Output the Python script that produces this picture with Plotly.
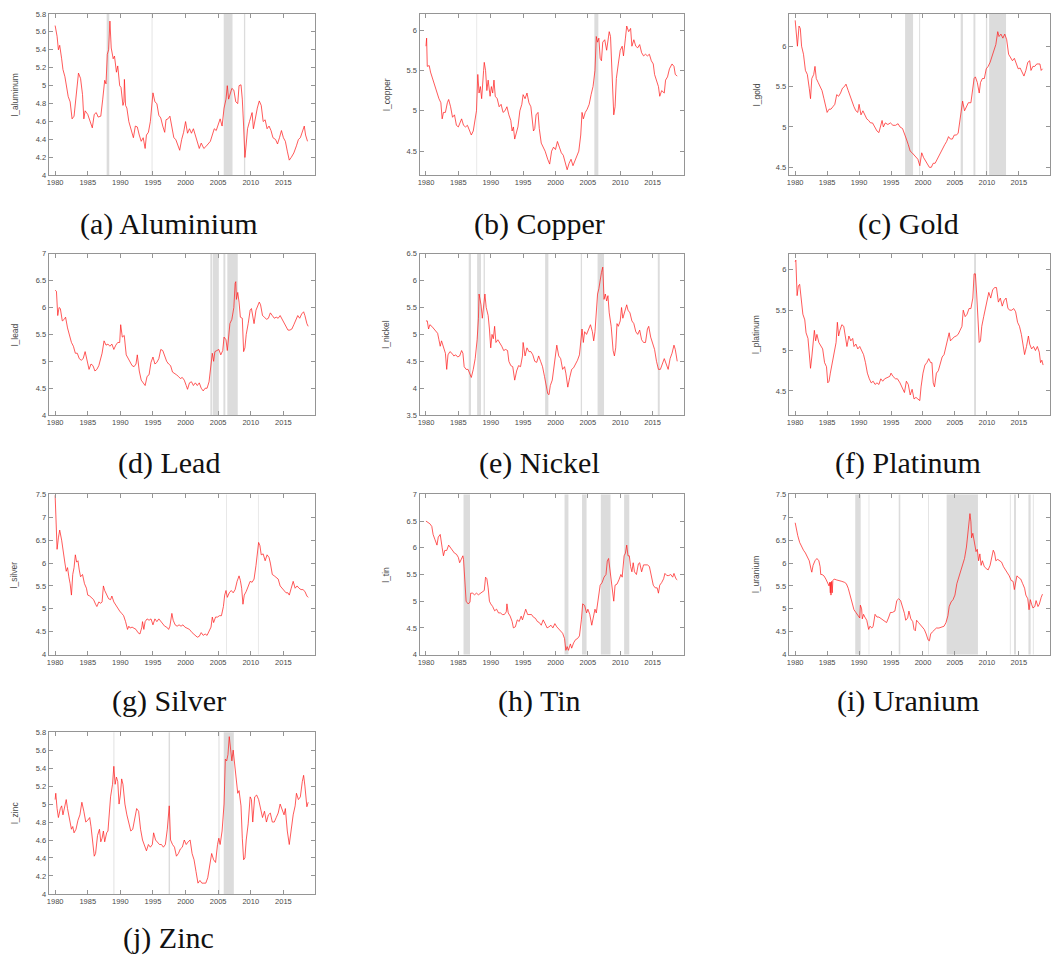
import plotly.graph_objects as go

# Monthly log prices (decimal year, log price) for each metal
ALUMINIUM = [
    (1980.0, 5.67), (1980.3, 5.55), (1980.5, 5.40), (1980.7, 5.45), (1981.0, 5.30), (1981.2, 5.18),
    (1981.5, 5.10), (1981.8, 4.95), (1982.0, 4.88), (1982.3, 4.82), (1982.6, 4.63), (1982.9, 4.66),
    (1983.2, 4.90), (1983.58, 5.14), (1983.9, 5.08), (1984.2, 4.90), (1984.4, 4.63), (1984.6, 4.72),
    (1985.0, 4.68), (1985.4, 4.60), (1985.7, 4.53), (1986.0, 4.68), (1986.3, 4.70), (1986.6, 4.65),
    (1987.0, 4.66), (1987.3, 4.85), (1987.6, 5.06), (1987.8, 5.02), (1988.0, 5.35), (1988.2, 5.40),
    (1988.4, 5.72), (1988.6, 5.42), (1988.9, 5.30), (1989.1, 5.33), (1989.4, 5.15), (1989.6, 5.22),
    (1989.9, 5.00), (1990.1, 4.98), (1990.4, 4.78), (1990.55, 4.82), (1990.62, 5.07), (1990.8, 4.78),
    (1991.0, 4.75), (1991.3, 4.60), (1991.7, 4.50), (1992.0, 4.42), (1992.3, 4.55), (1992.6, 4.54),
    (1992.9, 4.45), (1993.2, 4.38), (1993.5, 4.42), (1993.8, 4.30), (1994.0, 4.45), (1994.3, 4.48),
    (1994.6, 4.60), (1994.9, 4.83), (1995.0, 4.92), (1995.3, 4.82), (1995.6, 4.80), (1995.9, 4.67),
    (1996.2, 4.64), (1996.5, 4.55), (1996.8, 4.48), (1997.0, 4.62), (1997.3, 4.63), (1997.6, 4.66),
    (1997.9, 4.52), (1998.2, 4.42), (1998.5, 4.40), (1998.9, 4.32), (1999.1, 4.28), (1999.4, 4.40),
    (1999.7, 4.48), (2000.0, 4.60), (2000.3, 4.47), (2000.6, 4.52), (2000.9, 4.47), (2001.2, 4.52),
    (2001.5, 4.45), (2001.9, 4.35), (2002.1, 4.30), (2002.4, 4.36), (2002.8, 4.30), (2003.1, 4.32),
    (2003.4, 4.35), (2003.8, 4.38), (2004.1, 4.45), (2004.4, 4.52), (2004.7, 4.50), (2005.0, 4.56),
    (2005.3, 4.63), (2005.6, 4.55), (2005.9, 4.75), (2006.2, 4.85), (2006.4, 5.00), (2006.6, 4.85),
    (2006.9, 4.92), (2007.1, 4.97), (2007.4, 4.95), (2007.7, 4.82), (2008.0, 4.80), (2008.2, 5.00),
    (2008.5, 5.01), (2008.7, 4.85), (2008.9, 4.55), (2009.1, 4.20), (2009.3, 4.35), (2009.5, 4.52),
    (2009.8, 4.60), (2010.0, 4.65), (2010.2, 4.70), (2010.4, 4.52), (2010.7, 4.65), (2011.0, 4.75),
    (2011.3, 4.83), (2011.6, 4.78), (2011.9, 4.60), (2012.2, 4.62), (2012.5, 4.52), (2012.8, 4.55),
    (2013.1, 4.50), (2013.4, 4.42), (2013.8, 4.40), (2014.1, 4.35), (2014.4, 4.42), (2014.7, 4.50),
    (2015.0, 4.42), (2015.3, 4.38), (2015.6, 4.27), (2015.9, 4.17), (2016.2, 4.20), (2016.6, 4.25),
    (2017.0, 4.33), (2017.3, 4.40), (2017.6, 4.42), (2018.0, 4.50), (2018.2, 4.55), (2018.4, 4.45),
    (2018.7, 4.38),
]
ALUMINIUM_BUBBLES = [(1987.9, 1988.3), (1994.8, 1994.92), (2005.85, 2007.2), (2008.95, 2009.15)]

COPPER = [
    (1980.0, 5.80), (1980.1, 5.90), (1980.2, 5.55), (1980.5, 5.56), (1980.7, 5.48), (1981.0, 5.40),
    (1981.4, 5.30), (1981.7, 5.22), (1982.0, 5.15), (1982.3, 5.10), (1982.5, 4.90), (1982.7, 4.98),
    (1983.0, 4.98), (1983.3, 5.10), (1983.5, 5.14), (1983.8, 5.05), (1984.1, 4.92), (1984.4, 4.95),
    (1984.7, 4.82), (1985.0, 4.80), (1985.3, 4.85), (1985.5, 4.90), (1985.8, 4.82), (1986.1, 4.80),
    (1986.4, 4.82), (1986.7, 4.75), (1987.0, 4.70), (1987.3, 4.75), (1987.6, 4.90), (1987.8, 5.00),
    (1988.0, 5.45), (1988.2, 5.22), (1988.4, 5.30), (1988.6, 5.15), (1988.9, 5.50), (1989.0, 5.60),
    (1989.2, 5.50), (1989.4, 5.25), (1989.6, 5.38), (1989.9, 5.18), (1990.1, 5.30), (1990.3, 5.22),
    (1990.5, 5.38), (1990.7, 5.18), (1991.0, 5.15), (1991.3, 5.05), (1991.6, 5.08), (1991.9, 4.98),
    (1992.2, 5.00), (1992.5, 5.05), (1992.8, 4.95), (1993.1, 4.88), (1993.3, 4.75), (1993.5, 4.80),
    (1993.7, 4.65), (1994.0, 4.75), (1994.2, 4.80), (1994.5, 5.00), (1994.8, 5.08), (1995.0, 5.20),
    (1995.3, 5.15), (1995.6, 5.22), (1995.9, 5.10), (1996.2, 5.05), (1996.4, 4.90), (1996.6, 4.75),
    (1996.8, 4.78), (1997.0, 4.95), (1997.3, 4.98), (1997.5, 4.78), (1997.8, 4.60), (1998.1, 4.55),
    (1998.4, 4.50), (1998.8, 4.40), (1999.1, 4.34), (1999.4, 4.50), (1999.7, 4.55), (2000.0, 4.52),
    (2000.3, 4.62), (2000.6, 4.55), (2000.9, 4.48), (2001.2, 4.45), (2001.5, 4.35), (2001.8, 4.27),
    (2002.1, 4.35), (2002.4, 4.40), (2002.7, 4.32), (2003.0, 4.38), (2003.3, 4.42), (2003.6, 4.50),
    (2003.9, 4.70), (2004.1, 4.98), (2004.3, 4.90), (2004.6, 4.98), (2004.9, 5.02), (2005.2, 5.08),
    (2005.5, 5.20), (2005.8, 5.30), (2006.1, 5.50), (2006.3, 5.92), (2006.5, 5.85), (2006.7, 5.90),
    (2006.9, 5.65), (2007.1, 5.62), (2007.3, 5.85), (2007.6, 5.88), (2007.9, 5.75), (2008.1, 5.90),
    (2008.3, 5.98), (2008.5, 5.92), (2008.7, 5.60), (2008.9, 5.20), (2009.0, 4.95), (2009.2, 5.05),
    (2009.4, 5.40), (2009.7, 5.58), (2010.0, 5.75), (2010.3, 5.80), (2010.5, 5.68), (2010.8, 5.90),
    (2011.0, 6.05), (2011.3, 5.98), (2011.6, 6.02), (2011.8, 5.80), (2012.1, 5.88), (2012.4, 5.80),
    (2012.7, 5.78), (2013.0, 5.82), (2013.3, 5.72), (2013.6, 5.68), (2013.9, 5.70), (2014.2, 5.68),
    (2014.5, 5.70), (2014.8, 5.62), (2015.1, 5.58), (2015.3, 5.45), (2015.6, 5.38), (2015.9, 5.30),
    (2016.1, 5.18), (2016.4, 5.25), (2016.8, 5.22), (2017.0, 5.38), (2017.3, 5.42), (2017.6, 5.52),
    (2018.0, 5.58), (2018.3, 5.55), (2018.5, 5.45), (2018.8, 5.43),
]
COPPER_BUBBLES = [(1987.8, 1987.9), (2006.0, 2006.62)]

GOLD = [
    (1980.0, 6.32), (1980.2, 6.10), (1980.35, 6.00), (1980.6, 6.25), (1980.8, 6.22), (1981.0, 6.00),
    (1981.3, 5.90), (1981.6, 5.70), (1981.9, 5.65), (1982.2, 5.48), (1982.4, 5.35), (1982.6, 5.60),
    (1982.9, 5.65), (1983.1, 5.75), (1983.3, 5.60), (1983.6, 5.55), (1983.9, 5.50), (1984.2, 5.45),
    (1984.5, 5.35), (1984.8, 5.25), (1985.0, 5.18), (1985.3, 5.22), (1985.6, 5.22), (1985.9, 5.25),
    (1986.2, 5.28), (1986.5, 5.40), (1986.8, 5.38), (1987.1, 5.42), (1987.4, 5.48), (1987.7, 5.50),
    (1987.95, 5.53), (1988.3, 5.45), (1988.6, 5.38), (1988.9, 5.32), (1989.2, 5.25), (1989.5, 5.20),
    (1989.8, 5.18), (1990.0, 5.28), (1990.3, 5.15), (1990.6, 5.20), (1990.9, 5.15), (1991.2, 5.10),
    (1991.5, 5.08), (1991.8, 5.05), (1992.1, 5.05), (1992.4, 5.00), (1992.8, 4.95), (1993.1, 4.93),
    (1993.3, 5.00), (1993.6, 5.08), (1993.8, 5.00), (1994.1, 5.05), (1994.5, 5.03), (1994.9, 5.05),
    (1995.3, 5.02), (1995.7, 5.02), (1996.1, 5.04), (1996.4, 5.00), (1996.8, 4.98), (1997.1, 4.90),
    (1997.4, 4.85), (1997.7, 4.78), (1998.0, 4.70), (1998.3, 4.68), (1998.6, 4.65), (1998.9, 4.63),
    (1999.2, 4.60), (1999.5, 4.52), (1999.8, 4.68), (2000.1, 4.62), (2000.4, 4.58), (2000.7, 4.55),
    (2001.0, 4.50), (2001.3, 4.50), (2001.6, 4.55), (2001.9, 4.55), (2002.2, 4.60), (2002.5, 4.65),
    (2002.8, 4.68), (2003.1, 4.75), (2003.4, 4.78), (2003.7, 4.82), (2004.0, 4.88), (2004.3, 4.85),
    (2004.6, 4.85), (2004.9, 4.90), (2005.2, 4.90), (2005.5, 4.92), (2005.8, 5.10), (2006.0, 5.20),
    (2006.2, 5.32), (2006.5, 5.20), (2006.8, 5.25), (2007.1, 5.30), (2007.5, 5.30), (2007.8, 5.48),
    (2008.0, 5.60), (2008.2, 5.62), (2008.5, 5.55), (2008.8, 5.42), (2009.0, 5.55), (2009.3, 5.60),
    (2009.6, 5.60), (2009.9, 5.72), (2010.2, 5.75), (2010.5, 5.80), (2010.8, 5.88), (2011.1, 5.95),
    (2011.4, 6.02), (2011.7, 6.18), (2011.9, 6.12), (2012.2, 6.15), (2012.5, 6.10), (2012.8, 6.15),
    (2013.1, 6.08), (2013.4, 5.90), (2013.7, 5.85), (2014.0, 5.82), (2014.3, 5.85), (2014.6, 5.78),
    (2014.9, 5.72), (2015.2, 5.73), (2015.5, 5.68), (2015.8, 5.63), (2016.1, 5.70), (2016.4, 5.80),
    (2016.7, 5.82), (2016.9, 5.70), (2017.2, 5.75), (2017.5, 5.75), (2017.8, 5.78), (2018.0, 5.78),
    (2018.3, 5.78), (2018.5, 5.70), (2018.7, 5.72),
]
GOLD_BUBBLES = [(1997.2, 1998.45), (1999.4, 1999.55), (2005.9, 2006.25), (2007.9, 2008.2),
                (2009.85, 2010.05), (2010.35, 2013.0)]

LEAD = [
    (1980.0, 6.32), (1980.2, 6.30), (1980.4, 5.85), (1980.6, 6.00), (1980.8, 5.98), (1981.1, 5.75),
    (1981.4, 5.78), (1981.6, 5.82), (1981.9, 5.62), (1982.2, 5.50), (1982.5, 5.35), (1982.8, 5.28),
    (1983.1, 5.15), (1983.4, 5.15), (1983.7, 5.05), (1984.0, 5.02), (1984.3, 5.05), (1984.6, 5.18),
    (1984.9, 5.00), (1985.2, 4.85), (1985.5, 4.95), (1985.8, 4.92), (1986.1, 4.82), (1986.4, 4.85),
    (1986.7, 4.92), (1987.0, 5.05), (1987.2, 5.15), (1987.5, 5.38), (1987.8, 5.30), (1988.1, 5.32),
    (1988.4, 5.28), (1988.7, 5.32), (1989.0, 5.22), (1989.3, 5.30), (1989.6, 5.35), (1989.9, 5.35),
    (1990.05, 5.68), (1990.3, 5.45), (1990.6, 5.48), (1990.9, 5.12), (1991.2, 5.05), (1991.5, 5.00),
    (1991.8, 4.92), (1992.1, 4.90), (1992.4, 4.95), (1992.6, 5.12), (1992.9, 4.82), (1993.2, 4.65),
    (1993.5, 4.60), (1993.8, 4.55), (1994.1, 4.72), (1994.4, 4.75), (1994.7, 4.98), (1995.0, 5.08),
    (1995.3, 4.95), (1995.6, 4.98), (1995.9, 5.05), (1996.2, 5.22), (1996.5, 5.20), (1996.8, 5.10),
    (1997.1, 5.00), (1997.4, 4.95), (1997.7, 4.92), (1998.0, 4.80), (1998.3, 4.78), (1998.6, 4.75),
    (1998.9, 4.72), (1999.2, 4.68), (1999.5, 4.70), (1999.8, 4.65), (2000.1, 4.55), (2000.3, 4.48),
    (2000.6, 4.60), (2000.9, 4.62), (2001.2, 4.55), (2001.5, 4.60), (2001.8, 4.55), (2002.1, 4.60),
    (2002.4, 4.50), (2002.7, 4.45), (2003.0, 4.50), (2003.3, 4.50), (2003.6, 4.62), (2003.9, 4.90),
    (2004.1, 5.15), (2004.3, 5.00), (2004.5, 5.18), (2004.8, 5.20), (2005.1, 5.22), (2005.4, 5.12),
    (2005.7, 5.20), (2005.9, 5.45), (2006.2, 5.40), (2006.4, 5.20), (2006.6, 5.45), (2006.8, 5.70),
    (2007.1, 5.78), (2007.4, 6.00), (2007.6, 6.45), (2007.7, 6.48), (2007.8, 6.15), (2008.0, 6.28),
    (2008.2, 6.10), (2008.4, 5.82), (2008.7, 5.80), (2008.9, 5.18), (2009.1, 5.25), (2009.3, 5.50),
    (2009.6, 5.70), (2009.9, 5.95), (2010.1, 5.98), (2010.3, 5.82), (2010.5, 5.70), (2010.8, 5.95),
    (2011.0, 6.02), (2011.3, 6.10), (2011.5, 6.05), (2011.8, 5.85), (2012.1, 5.82), (2012.4, 5.78),
    (2012.7, 5.80), (2013.0, 5.90), (2013.3, 5.85), (2013.6, 5.80), (2013.9, 5.82), (2014.2, 5.80),
    (2014.5, 5.85), (2014.8, 5.78), (2015.1, 5.72), (2015.4, 5.65), (2015.7, 5.58), (2016.0, 5.58),
    (2016.3, 5.60), (2016.6, 5.68), (2016.9, 5.78), (2017.2, 5.85), (2017.5, 5.80), (2017.8, 5.88),
    (2018.1, 5.92), (2018.3, 5.85), (2018.6, 5.70), (2018.8, 5.65),
]
LEAD_BUBBLES = [(2003.8, 2004.1), (2004.2, 2005.1), (2005.8, 2006.1), (2006.4, 2008.0)]

NICKEL = [
    (1980.0, 5.25), (1980.2, 5.25), (1980.4, 5.10), (1980.6, 5.18), (1980.9, 5.15), (1981.2, 5.10),
    (1981.5, 5.05), (1981.8, 5.02), (1982.0, 4.90), (1982.2, 4.78), (1982.4, 4.88), (1982.7, 4.75),
    (1983.0, 4.65), (1983.2, 4.35), (1983.4, 4.62), (1983.7, 4.68), (1984.0, 4.65), (1984.3, 4.60),
    (1984.6, 4.62), (1984.9, 4.58), (1985.2, 4.60), (1985.5, 4.70), (1985.7, 4.65), (1985.9, 4.40),
    (1986.2, 4.35), (1986.5, 4.35), (1986.8, 4.25), (1987.0, 4.20), (1987.3, 4.35), (1987.6, 4.55),
    (1987.9, 4.90), (1988.1, 5.30), (1988.2, 5.75), (1988.5, 5.55), (1988.7, 5.30), (1988.9, 5.60),
    (1989.1, 5.75), (1989.3, 5.50), (1989.6, 5.35), (1989.8, 5.10), (1990.0, 4.75), (1990.2, 5.00),
    (1990.4, 4.92), (1990.6, 5.15), (1990.8, 4.85), (1991.1, 4.90), (1991.4, 4.85), (1991.7, 4.78),
    (1992.0, 4.70), (1992.3, 4.72), (1992.6, 4.70), (1992.8, 4.50), (1993.1, 4.42), (1993.4, 4.40),
    (1993.7, 4.15), (1994.0, 4.32), (1994.3, 4.42), (1994.6, 4.40), (1994.9, 4.60), (1995.0, 4.85),
    (1995.3, 4.60), (1995.6, 4.75), (1995.9, 4.68), (1996.2, 4.68), (1996.5, 4.62), (1996.8, 4.50),
    (1997.1, 4.48), (1997.4, 4.60), (1997.7, 4.50), (1998.0, 4.40), (1998.3, 4.22), (1998.6, 4.05),
    (1998.8, 3.90), (1999.0, 3.88), (1999.2, 4.05), (1999.5, 4.15), (1999.8, 4.42), (2000.0, 4.55),
    (2000.2, 4.80), (2000.5, 4.60), (2000.8, 4.55), (2001.1, 4.35), (2001.4, 4.40), (2001.6, 4.28),
    (2001.9, 4.02), (2002.2, 4.20), (2002.5, 4.35), (2002.8, 4.38), (2003.1, 4.45), (2003.4, 4.52),
    (2003.7, 4.62), (2003.9, 4.95), (2004.1, 5.10), (2004.3, 4.85), (2004.5, 5.05), (2004.8, 5.00),
    (2005.1, 5.10), (2005.4, 5.18), (2005.7, 5.05), (2005.9, 4.88), (2006.1, 5.05), (2006.3, 5.40),
    (2006.5, 5.75), (2006.7, 5.85), (2006.9, 6.05), (2007.1, 6.15), (2007.3, 6.25), (2007.5, 5.65),
    (2007.7, 5.75), (2007.9, 5.62), (2008.1, 5.72), (2008.3, 5.40), (2008.6, 5.15), (2008.9, 4.70),
    (2009.1, 4.60), (2009.3, 4.75), (2009.5, 5.20), (2009.7, 5.15), (2010.0, 5.25), (2010.2, 5.50),
    (2010.4, 5.30), (2010.7, 5.42), (2011.0, 5.55), (2011.2, 5.45), (2011.5, 5.40), (2011.8, 5.25),
    (2012.1, 5.20), (2012.4, 5.05), (2012.7, 5.00), (2013.0, 5.08), (2013.3, 4.90), (2013.6, 4.85),
    (2013.9, 4.85), (2014.2, 5.10), (2014.4, 5.15), (2014.7, 4.95), (2015.0, 4.85), (2015.3, 4.72),
    (2015.6, 4.50), (2015.9, 4.35), (2016.2, 4.35), (2016.5, 4.45), (2016.8, 4.55), (2017.1, 4.45),
    (2017.4, 4.35), (2017.7, 4.55), (2018.0, 4.65), (2018.3, 4.80), (2018.5, 4.72), (2018.8, 4.50),
]
NICKEL_BUBBLES = [(1986.6, 1986.95), (1987.9, 1988.5), (1988.9, 1989.1), (1998.4, 1998.9),
                  (2003.9, 2004.1), (2006.5, 2007.5), (2015.8, 2016.1)]

PLATINUM = [
    (1980.0, 6.10), (1980.1, 6.12), (1980.3, 5.68), (1980.5, 5.80), (1980.7, 5.82), (1980.9, 5.65),
    (1981.2, 5.45), (1981.5, 5.38), (1981.7, 5.22), (1982.0, 5.15), (1982.2, 4.95), (1982.4, 4.78),
    (1982.6, 4.92), (1982.8, 5.05), (1983.0, 5.25), (1983.2, 5.12), (1983.4, 5.20), (1983.7, 5.10),
    (1984.0, 5.05), (1984.3, 5.02), (1984.6, 4.85), (1984.9, 4.80), (1985.1, 4.60), (1985.3, 4.62),
    (1985.5, 4.72), (1985.8, 4.85), (1986.1, 5.00), (1986.4, 5.10), (1986.6, 5.35), (1986.8, 5.18),
    (1987.0, 5.25), (1987.3, 5.32), (1987.6, 5.30), (1987.9, 5.15), (1988.1, 5.05), (1988.4, 5.18),
    (1988.7, 5.12), (1989.0, 5.15), (1989.2, 5.05), (1989.5, 5.08), (1989.8, 5.02), (1990.1, 5.05),
    (1990.4, 5.00), (1990.7, 4.95), (1991.0, 4.85), (1991.3, 4.72), (1991.6, 4.65), (1991.9, 4.60),
    (1992.2, 4.62), (1992.5, 4.58), (1992.8, 4.60), (1993.1, 4.58), (1993.4, 4.65), (1993.7, 4.62),
    (1994.0, 4.65), (1994.4, 4.67), (1994.8, 4.68), (1995.0, 4.72), (1995.3, 4.68), (1995.7, 4.65),
    (1996.0, 4.65), (1996.4, 4.60), (1996.8, 4.52), (1997.1, 4.48), (1997.4, 4.62), (1997.7, 4.58),
    (1998.0, 4.45), (1998.3, 4.52), (1998.6, 4.40), (1998.9, 4.42), (1999.2, 4.40), (1999.5, 4.38),
    (1999.7, 4.55), (2000.0, 4.72), (2000.3, 4.82), (2000.6, 4.85), (2000.9, 4.90), (2001.2, 4.85),
    (2001.4, 4.85), (2001.6, 4.60), (2001.8, 4.55), (2002.1, 4.72), (2002.4, 4.75), (2002.7, 4.85),
    (2003.0, 4.92), (2003.3, 4.95), (2003.6, 5.05), (2003.9, 5.15), (2004.1, 5.22), (2004.3, 5.12),
    (2004.6, 5.15), (2004.9, 5.17), (2005.2, 5.18), (2005.5, 5.20), (2005.8, 5.25), (2006.1, 5.30),
    (2006.3, 5.50), (2006.6, 5.42), (2006.9, 5.45), (2007.2, 5.52), (2007.5, 5.52), (2007.8, 5.65),
    (2008.0, 5.95), (2008.2, 5.95), (2008.4, 5.70), (2008.6, 5.40), (2008.8, 5.10), (2009.0, 5.12),
    (2009.2, 5.30), (2009.5, 5.42), (2009.8, 5.55), (2010.1, 5.68), (2010.3, 5.72), (2010.6, 5.65),
    (2010.9, 5.75), (2011.2, 5.78), (2011.5, 5.78), (2011.8, 5.60), (2012.1, 5.65), (2012.4, 5.55),
    (2012.7, 5.62), (2013.0, 5.65), (2013.3, 5.52), (2013.6, 5.50), (2013.9, 5.50), (2014.2, 5.52),
    (2014.5, 5.48), (2014.8, 5.35), (2015.1, 5.30), (2015.4, 5.20), (2015.7, 5.05), (2015.9, 4.95),
    (2016.2, 5.05), (2016.5, 5.18), (2016.7, 5.08), (2017.0, 5.02), (2017.3, 5.05), (2017.6, 5.00),
    (2017.9, 5.05), (2018.2, 4.98), (2018.4, 4.85), (2018.6, 4.88), (2018.8, 4.82),
]
PLATINUM_BUBBLES = [(2008.0, 2008.3)]

SILVER = [
    (1980.0, 7.48), (1980.15, 7.00), (1980.3, 6.30), (1980.5, 6.55), (1980.7, 6.72), (1981.0, 6.50),
    (1981.2, 6.25), (1981.5, 6.00), (1981.7, 5.82), (1981.9, 5.90), (1982.1, 5.70), (1982.3, 5.55),
    (1982.5, 5.30), (1982.7, 5.75), (1982.9, 5.90), (1983.1, 6.18), (1983.3, 6.02), (1983.5, 6.05),
    (1983.7, 5.85), (1983.9, 5.70), (1984.2, 5.75), (1984.5, 5.55), (1984.8, 5.45), (1985.0, 5.30),
    (1985.3, 5.28), (1985.6, 5.25), (1985.9, 5.20), (1986.2, 5.10), (1986.4, 5.05), (1986.7, 5.15),
    (1987.0, 5.12), (1987.2, 5.15), (1987.4, 5.50), (1987.6, 5.40), (1987.9, 5.32), (1988.2, 5.22),
    (1988.5, 5.20), (1988.7, 5.28), (1989.0, 5.15), (1989.3, 5.08), (1989.6, 5.00), (1989.9, 4.95),
    (1990.2, 4.90), (1990.5, 4.85), (1990.8, 4.72), (1991.1, 4.55), (1991.3, 4.62), (1991.5, 4.58),
    (1991.8, 4.60), (1992.1, 4.58), (1992.4, 4.55), (1992.7, 4.48), (1993.0, 4.45), (1993.3, 4.60),
    (1993.4, 4.72), (1993.6, 4.55), (1993.8, 4.72), (1994.1, 4.78), (1994.4, 4.75), (1994.7, 4.78),
    (1995.0, 4.65), (1995.3, 4.78), (1995.6, 4.72), (1995.9, 4.78), (1996.2, 4.72), (1996.5, 4.68),
    (1996.8, 4.62), (1997.1, 4.60), (1997.4, 4.55), (1997.6, 4.62), (1997.9, 4.90), (1998.1, 4.75),
    (1998.4, 4.65), (1998.7, 4.62), (1999.0, 4.65), (1999.3, 4.62), (1999.6, 4.65), (1999.9, 4.60),
    (2000.2, 4.58), (2000.6, 4.55), (2001.0, 4.48), (2001.4, 4.42), (2001.8, 4.38), (2002.1, 4.40),
    (2002.4, 4.48), (2002.7, 4.42), (2003.0, 4.45), (2003.3, 4.42), (2003.6, 4.52), (2003.9, 4.60),
    (2004.1, 4.82), (2004.3, 4.70), (2004.6, 4.82), (2004.9, 4.82), (2005.2, 4.85), (2005.5, 4.85),
    (2005.8, 5.05), (2006.0, 5.30), (2006.2, 5.40), (2006.4, 5.25), (2006.7, 5.35), (2007.0, 5.40),
    (2007.3, 5.35), (2007.6, 5.42), (2007.9, 5.60), (2008.2, 5.72), (2008.4, 5.62), (2008.6, 5.45),
    (2008.8, 5.10), (2009.0, 5.30), (2009.3, 5.38), (2009.6, 5.50), (2009.9, 5.60), (2010.2, 5.58),
    (2010.5, 5.65), (2010.8, 5.95), (2011.0, 6.15), (2011.2, 6.45), (2011.4, 6.38), (2011.6, 6.18),
    (2011.9, 6.20), (2012.2, 6.05), (2012.5, 6.18), (2012.8, 6.12), (2013.0, 6.00), (2013.3, 5.75),
    (2013.6, 5.72), (2013.9, 5.68), (2014.2, 5.65), (2014.5, 5.50), (2014.8, 5.45), (2015.1, 5.42),
    (2015.4, 5.35), (2015.7, 5.35), (2015.9, 5.30), (2016.2, 5.45), (2016.5, 5.60), (2016.8, 5.45),
    (2017.1, 5.50), (2017.4, 5.45), (2017.7, 5.42), (2018.0, 5.42), (2018.3, 5.38), (2018.6, 5.28),
    (2018.8, 5.25),
]
SILVER_BUBBLES = [(2006.25, 2006.35), (2011.1, 2011.2)]

TIN = [
    (1980.0, 6.50), (1980.3, 6.48), (1980.6, 6.45), (1980.9, 6.40), (1981.1, 6.25), (1981.4, 6.15),
    (1981.7, 6.05), (1981.9, 6.20), (1982.2, 6.25), (1982.5, 6.00), (1982.7, 5.85), (1982.9, 5.95),
    (1983.2, 5.95), (1983.5, 6.05), (1983.8, 6.00), (1984.1, 5.95), (1984.4, 5.90), (1984.7, 5.88),
    (1985.0, 5.82), (1985.2, 5.72), (1985.5, 5.82), (1985.7, 5.85), (1985.8, 5.78), (1986.0, 5.45),
    (1986.1, 5.30), (1986.2, 5.00), (1986.5, 4.95), (1986.8, 4.98), (1986.9, 5.15), (1987.2, 5.15),
    (1987.5, 5.12), (1987.8, 5.15), (1988.1, 5.12), (1988.4, 5.15), (1988.7, 5.18), (1989.0, 5.20),
    (1989.2, 5.45), (1989.4, 5.42), (1989.6, 5.25), (1989.8, 5.00), (1990.0, 4.95), (1990.3, 4.90),
    (1990.6, 4.82), (1990.9, 4.85), (1991.2, 4.78), (1991.5, 4.78), (1991.8, 4.75), (1992.1, 4.75),
    (1992.4, 4.80), (1992.5, 4.95), (1992.7, 4.78), (1993.0, 4.72), (1993.3, 4.62), (1993.5, 4.50),
    (1993.8, 4.52), (1994.1, 4.65), (1994.4, 4.62), (1994.7, 4.72), (1994.9, 4.65), (1995.2, 4.78),
    (1995.4, 4.85), (1995.7, 4.75), (1996.0, 4.75), (1996.3, 4.75), (1996.6, 4.70), (1996.9, 4.68),
    (1997.2, 4.62), (1997.5, 4.60), (1997.8, 4.55), (1998.1, 4.65), (1998.4, 4.58), (1998.7, 4.50),
    (1999.0, 4.52), (1999.3, 4.55), (1999.6, 4.50), (1999.9, 4.58), (2000.2, 4.52), (2000.5, 4.48),
    (2000.8, 4.45), (2001.1, 4.40), (2001.4, 4.30), (2001.6, 4.08), (2001.8, 4.15), (2002.0, 4.08),
    (2002.3, 4.20), (2002.5, 4.12), (2002.8, 4.22), (2003.1, 4.28), (2003.4, 4.30), (2003.7, 4.35),
    (2004.0, 4.65), (2004.2, 4.95), (2004.5, 4.92), (2004.8, 4.78), (2005.0, 4.85), (2005.3, 4.75),
    (2005.6, 4.55), (2005.9, 4.75), (2006.1, 4.85), (2006.3, 4.78), (2006.6, 5.05), (2006.9, 5.30),
    (2007.2, 5.35), (2007.5, 5.45), (2007.8, 5.50), (2008.0, 5.75), (2008.2, 5.80), (2008.4, 5.60),
    (2008.6, 5.40), (2008.8, 5.10), (2009.0, 5.00), (2009.2, 5.30), (2009.5, 5.32), (2009.8, 5.40),
    (2010.1, 5.50), (2010.3, 5.45), (2010.6, 5.85), (2010.8, 5.90), (2011.0, 6.05), (2011.2, 5.85),
    (2011.4, 5.85), (2011.6, 5.65), (2011.8, 5.55), (2012.0, 5.72), (2012.2, 5.55), (2012.5, 5.50),
    (2012.8, 5.70), (2013.0, 5.72), (2013.3, 5.55), (2013.6, 5.68), (2013.9, 5.68), (2014.2, 5.68),
    (2014.5, 5.65), (2014.8, 5.50), (2015.1, 5.30), (2015.4, 5.25), (2015.7, 5.25), (2015.9, 5.15),
    (2016.1, 5.30), (2016.4, 5.35), (2016.7, 5.42), (2016.9, 5.52), (2017.2, 5.48), (2017.5, 5.48),
    (2017.8, 5.50), (2018.1, 5.45), (2018.3, 5.52), (2018.6, 5.42), (2018.8, 5.40),
]
TIN_BUBBLES = [(1985.8, 1986.8), (2001.4, 2002.0), (2004.1, 2004.8), (2007.0, 2008.5), (2010.6, 2011.4)]

URANIUM = [
    (1980.0, 6.88), (1980.2, 6.70), (1980.4, 6.60), (1980.7, 6.45), (1981.0, 6.35), (1981.3, 6.28),
    (1981.6, 6.22), (1981.9, 6.15), (1982.2, 6.05), (1982.5, 5.85), (1982.6, 5.80), (1982.8, 5.95),
    (1983.1, 6.05), (1983.4, 6.10), (1983.7, 6.05), (1983.9, 5.92), (1984.0, 5.75), (1984.2, 5.75),
    (1984.5, 5.72), (1984.8, 5.65), (1985.1, 5.55), (1985.3, 5.50), (1985.4, 5.58), (1985.5, 5.35),
    (1985.55, 5.58), (1985.6, 5.30), (1985.7, 5.60), (1985.8, 5.35), (1985.9, 5.62), (1986.1, 5.65),
    (1986.5, 5.63), (1986.9, 5.62), (1987.3, 5.60), (1987.7, 5.58), (1988.0, 5.55), (1988.3, 5.45),
    (1988.6, 5.30), (1988.9, 5.10), (1989.2, 4.98), (1989.5, 4.92), (1989.8, 4.85), (1990.1, 4.80),
    (1990.2, 5.08), (1990.4, 5.00), (1990.5, 4.78), (1990.7, 4.88), (1990.9, 4.82), (1991.2, 4.75),
    (1991.5, 4.55), (1991.7, 4.62), (1992.0, 4.58), (1992.2, 4.62), (1992.5, 4.88), (1992.8, 4.82),
    (1993.1, 4.82), (1993.5, 4.78), (1993.9, 4.72), (1994.3, 4.70), (1994.6, 4.80), (1994.9, 4.92),
    (1995.2, 4.92), (1995.6, 4.95), (1995.9, 5.18), (1996.2, 5.22), (1996.5, 5.18), (1996.8, 5.05),
    (1997.1, 4.90), (1997.3, 4.75), (1997.6, 4.80), (1997.8, 4.95), (1998.1, 4.78), (1998.4, 4.72),
    (1998.6, 4.55), (1998.8, 4.52), (1999.0, 4.75), (1999.3, 4.70), (1999.6, 4.65), (1999.9, 4.60),
    (2000.2, 4.55), (2000.5, 4.45), (2000.8, 4.32), (2001.0, 4.30), (2001.2, 4.45), (2001.5, 4.50),
    (2001.8, 4.55), (2002.1, 4.58), (2002.5, 4.58), (2002.9, 4.60), (2003.3, 4.62), (2003.6, 4.70),
    (2003.9, 4.85), (2004.1, 5.05), (2004.4, 5.15), (2004.7, 5.20), (2005.0, 5.30), (2005.3, 5.55),
    (2005.6, 5.70), (2005.9, 5.80), (2006.2, 5.95), (2006.5, 6.10), (2006.8, 6.35), (2007.0, 6.60),
    (2007.2, 7.00), (2007.35, 7.08), (2007.5, 6.90), (2007.6, 6.55), (2007.8, 6.65), (2008.0, 6.50),
    (2008.3, 6.25), (2008.5, 6.30), (2008.7, 6.05), (2008.9, 6.20), (2009.1, 5.95), (2009.3, 6.05),
    (2009.6, 5.92), (2009.9, 5.88), (2010.2, 5.85), (2010.5, 5.95), (2010.8, 6.15), (2011.0, 6.28),
    (2011.2, 6.22), (2011.4, 6.05), (2011.7, 6.08), (2012.0, 6.05), (2012.3, 6.02), (2012.6, 5.92),
    (2012.9, 5.85), (2013.2, 5.80), (2013.5, 5.72), (2013.8, 5.62), (2014.1, 5.60), (2014.3, 5.42),
    (2014.5, 5.55), (2014.7, 5.72), (2015.0, 5.68), (2015.3, 5.65), (2015.6, 5.55), (2015.9, 5.45),
    (2016.1, 5.30), (2016.4, 5.22), (2016.6, 4.98), (2016.8, 5.20), (2017.0, 5.10), (2017.2, 5.02),
    (2017.5, 5.05), (2017.7, 5.18), (2018.0, 5.05), (2018.2, 5.10), (2018.5, 5.25), (2018.7, 5.32),
]
URANIUM_BUBBLES = [(1989.4, 1990.25), (1991.5, 1991.6), (1996.2, 1996.45), (2000.8, 2000.92),
                   (2003.7, 2008.6), (2013.6, 2013.72), (2014.25, 2014.55), (2016.5, 2016.85),
                   (2017.2, 2017.32)]

ZINC = [
    (1980.0, 5.05), (1980.1, 5.12), (1980.3, 4.95), (1980.5, 4.85), (1980.8, 4.95), (1981.0, 4.98),
    (1981.2, 4.88), (1981.5, 4.98), (1981.7, 5.05), (1981.9, 4.95), (1982.2, 4.85), (1982.5, 4.72),
    (1982.7, 4.75), (1982.9, 4.68), (1983.2, 4.72), (1983.5, 4.82), (1983.8, 4.88), (1984.1, 5.02),
    (1984.4, 4.92), (1984.7, 4.80), (1985.0, 4.82), (1985.3, 4.85), (1985.5, 4.75), (1985.8, 4.55),
    (1986.0, 4.42), (1986.2, 4.45), (1986.5, 4.65), (1986.8, 4.72), (1987.0, 4.58), (1987.2, 4.62),
    (1987.4, 4.70), (1987.6, 4.58), (1987.9, 4.68), (1988.1, 4.70), (1988.3, 4.95), (1988.5, 5.08),
    (1988.8, 5.22), (1989.0, 5.42), (1989.2, 5.22), (1989.4, 5.30), (1989.6, 5.25), (1989.8, 5.00),
    (1990.0, 5.10), (1990.2, 5.28), (1990.4, 5.22), (1990.7, 5.00), (1991.0, 4.88), (1991.3, 4.80),
    (1991.6, 4.70), (1991.9, 4.72), (1992.2, 4.85), (1992.5, 4.95), (1992.8, 4.92), (1993.1, 4.72),
    (1993.4, 4.60), (1993.7, 4.55), (1994.0, 4.48), (1994.3, 4.55), (1994.6, 4.52), (1994.9, 4.55),
    (1995.1, 4.68), (1995.4, 4.60), (1995.7, 4.58), (1996.0, 4.55), (1996.3, 4.55), (1996.6, 4.52),
    (1996.9, 4.55), (1997.2, 4.72), (1997.5, 4.98), (1997.7, 4.60), (1998.0, 4.55), (1998.3, 4.52),
    (1998.6, 4.42), (1998.9, 4.45), (1999.2, 4.50), (1999.5, 4.52), (1999.8, 4.60), (2000.1, 4.55),
    (2000.4, 4.58), (2000.7, 4.60), (2001.0, 4.45), (2001.3, 4.38), (2001.6, 4.25), (2001.9, 4.12),
    (2002.2, 4.15), (2002.5, 4.12), (2002.8, 4.12), (2003.1, 4.12), (2003.4, 4.18), (2003.7, 4.30),
    (2004.0, 4.45), (2004.3, 4.38), (2004.6, 4.35), (2004.9, 4.55), (2005.1, 4.62), (2005.3, 4.55),
    (2005.6, 4.70), (2005.9, 5.00), (2006.1, 5.50), (2006.3, 5.48), (2006.5, 5.55), (2006.7, 5.75),
    (2006.9, 5.60), (2007.1, 5.48), (2007.3, 5.60), (2007.5, 5.45), (2007.7, 5.35), (2008.0, 5.12),
    (2008.2, 5.15), (2008.5, 4.98), (2008.7, 4.62), (2008.9, 4.38), (2009.1, 4.40), (2009.3, 4.60),
    (2009.6, 4.78), (2009.9, 5.08), (2010.1, 5.05), (2010.3, 4.80), (2010.6, 5.08), (2010.9, 5.10),
    (2011.2, 5.05), (2011.5, 4.95), (2011.8, 4.85), (2012.1, 4.92), (2012.4, 4.80), (2012.7, 4.88),
    (2013.0, 4.90), (2013.3, 4.80), (2013.6, 4.80), (2013.9, 4.85), (2014.2, 4.90), (2014.5, 5.00),
    (2014.8, 4.95), (2015.1, 4.88), (2015.3, 4.95), (2015.6, 4.70), (2015.9, 4.55), (2016.2, 4.72),
    (2016.5, 4.88), (2016.8, 4.98), (2017.0, 5.12), (2017.3, 5.05), (2017.6, 5.08), (2017.9, 5.25),
    (2018.1, 5.32), (2018.3, 5.20), (2018.5, 5.00), (2018.6, 4.97), (2018.8, 5.02),
]
ZINC_BUBBLES = [(1988.95, 1989.08), (1997.4, 1997.62), (2005.05, 2005.2), (2005.85, 2007.4)]

CAPTIONS = ["(a) Aluminium", "(b) Copper", "(c) Gold", "(d) Lead", "(e) Nickel",
            "(f) Platinum", "(g) Silver", "(h) Tin", "(i) Uranium", "(j) Zinc"]
Y_TITLES = ["l_aluminum", "l_copper", "l_gold", "l_lead", "l_nickel",
            "l_platinum", "l_silver", "l_tin", "l_uranium", "l_zinc"]
Y_RANGES = [(4.0, 5.8), (4.2, 6.2), (4.4, 6.4), (4.0, 7.0), (3.5, 6.5),
            (4.2, 6.2), (4.0, 7.5), (4.0, 7.0), (4.0, 7.5), (4.0, 5.8)]
Y_STEPS = [0.2, 0.5, 0.5, 0.5, 0.5, 0.5, 0.5, 0.5, 0.5, 0.2]
YEAR_TICKS = [1980, 1985, 1990, 1995, 2000, 2005, 2010, 2015]
YEAR_RANGE = (1979.0, 2019.8)

SERIES = [ALUMINIUM, COPPER, GOLD, LEAD, NICKEL, PLATINUM, SILVER, TIN, URANIUM, ZINC]
BUBBLES = [ALUMINIUM_BUBBLES, COPPER_BUBBLES, GOLD_BUBBLES, LEAD_BUBBLES, NICKEL_BUBBLES,
           PLATINUM_BUBBLES, SILVER_BUBBLES, TIN_BUBBLES, URANIUM_BUBBLES, ZINC_BUBBLES]

# ---- page geometry (pixels) ----
W, H = 1051, 967
COLS = [(46.7, 313.3), (418.3, 683.0), (788.3, 1049.5)]
ROWS = [(10.0, 173.0), (252.0, 415.0), (495.0, 656.7), (735.0, 898.3)]
CAPTION_X = [167, 539, 908]
CAPTION_Y = [222, 463, 704, 943]
YTITLE_X = [13, 385, 756]

LINE_COLOR = "rgba(255,30,30,0.82)"
FRAME_COLOR = "#959595"
BAND_COLOR = "#dcdcdc"
TICK_FONT = dict(family="Liberation Sans, Arial, sans-serif", size=7.5, color="#4a4a4a")

fig = go.Figure()
shapes, annotations = [], []

for i, (data, bubbles) in enumerate(zip(SERIES, BUBBLES)):
    r, c = divmod(i, 3)
    n = "" if i == 0 else str(i + 1)
    x0, x1 = COLS[c]
    top, bot = ROWS[r]

    xs = [p[0] for p in data]
    ys = [p[1] for p in data]
    fig.add_trace(go.Scatter(x=xs, y=ys, mode="lines", xaxis="x" + n, yaxis="y" + n,
                             line=dict(color=LINE_COLOR, width=0.9), hoverinfo="skip"))

    axis_common = dict(showline=True, mirror="ticks", linecolor=FRAME_COLOR, linewidth=1,
                       ticks="inside", ticklen=4, tickcolor=FRAME_COLOR, tickwidth=1,
                       showgrid=False, zeroline=False, tickfont=TICK_FONT, fixedrange=True)
    fig.layout["xaxis" + n] = dict(domain=[x0 / W, x1 / W], anchor="y" + n,
                                   range=list(YEAR_RANGE), tickmode="array",
                                   tickvals=YEAR_TICKS, ticktext=[str(t) for t in YEAR_TICKS],
                                   **axis_common)
    fig.layout["yaxis" + n] = dict(domain=[1 - bot / H, 1 - top / H], anchor="x" + n,
                                   range=list(Y_RANGES[i]), tick0=0, dtick=Y_STEPS[i],
                                   **axis_common)

    for b0, b1 in bubbles:
        shapes.append(dict(type="rect", xref="x" + n, yref="y" + n + " domain",
                           x0=b0, x1=b1, y0=0, y1=1, fillcolor=BAND_COLOR,
                           line=dict(width=0), layer="below"))

    annotations.append(dict(text=Y_TITLES[i], xref="paper", yref="paper",
                            x=YTITLE_X[c] / W, y=1 - (top + bot) / 2 / H, textangle=-90,
                            showarrow=False, xanchor="center", yanchor="middle",
                            font=dict(family="Liberation Sans, Arial, sans-serif", size=8.5,
                                      color="#4a4a4a")))
    annotations.append(dict(text=CAPTIONS[i], xref="paper", yref="paper",
                            x=CAPTION_X[c] / W, y=1 - CAPTION_Y[r] / H,
                            showarrow=False, xanchor="center", yanchor="middle",
                            font=dict(family="Liberation Serif, Times New Roman, serif",
                                      size=30, color="#111111")))

fig.update_layout(width=W, height=H, margin=dict(l=0, r=0, t=0, b=0),
                  paper_bgcolor="white", plot_bgcolor="white", showlegend=False,
                  shapes=shapes, annotations=annotations)

fig.write_html("out.html")
